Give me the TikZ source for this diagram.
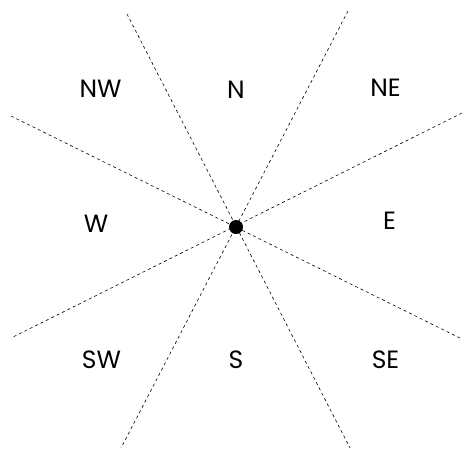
\documentclass[tikz,border=0pt]{standalone}
\usepackage{fontspec}
\setmainfont{Poppins}
\begin{document}
\begin{tikzpicture}[x=1pt,y=-1pt,
  dir/.style={font=\fontsize{25}{27}\selectfont, inner sep=0pt, anchor=center},
  ray/.style={dash pattern=on 3pt off 3pt, line width=0.6pt},
  dot/.style={circle, fill=black, inner sep=0pt, minimum size=14pt}]
\useasboundingbox (0,0) rectangle (462,448);
\node[dot] (c) at (236,227) {};
\coordinate (tl) at (127,14);
\coordinate (br) at (350,448);
\coordinate (tr) at (348,11);
\coordinate (bl) at (121,448);
\coordinate (lt) at (11,116);
\coordinate (rb) at (462,339);
\coordinate (rt) at (462,113);
\coordinate (lb) at (11,338);
\draw[ray] (tl) -- (br);
\draw[ray] (tr) -- (bl);
\draw[ray] (lt) -- (rb);
\draw[ray] (rt) -- (lb);
\node[dir] (nw) at (100.5,89) {NW};
\node[dir] (n) at (236,90) {N};
\node[dir] (ne) at (385.5,88) {NE};
\node[dir] (w) at (96,224) {W};
\node[dir] (e) at (389.5,220.5) {E};
\node[dir] (sw) at (101.5,359.5) {SW};
\node[dir] (s) at (236,359.5) {S};
\node[dir] (se) at (385.5,359.5) {SE};
\end{tikzpicture}
\end{document}
